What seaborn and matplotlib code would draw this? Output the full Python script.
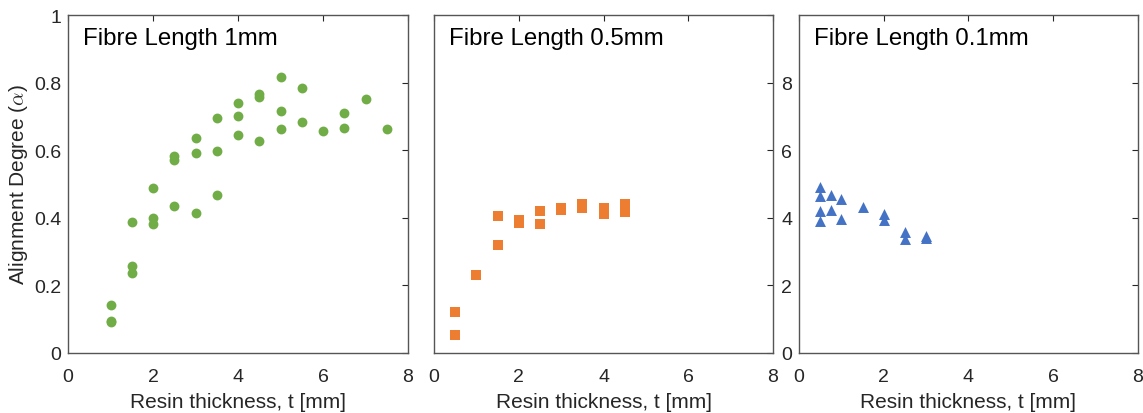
import numpy as np
import pandas as pd
import matplotlib
matplotlib.use("Agg")
import matplotlib.pyplot as plt
import seaborn as sns

# Fibre length 1 mm
t_1mm = [1, 1, 1, 1.5, 1.5, 1.5, 2, 2, 2, 2.5, 2.5, 2.5, 3, 3, 3, 3.5, 3.5, 3.5,
         4, 4, 4, 4.5, 4.5, 4.5, 5, 5, 5, 5.5, 5.5, 6, 6.5, 6.5, 7, 7.5]
a_1mm = [0.142, 0.091, 0.095, 0.387, 0.258, 0.236, 0.489, 0.399, 0.381,
         0.582, 0.571, 0.434, 0.636, 0.593, 0.414, 0.695, 0.598, 0.469,
         0.739, 0.701, 0.644, 0.767, 0.757, 0.628, 0.818, 0.715, 0.663,
         0.785, 0.684, 0.658, 0.711, 0.665, 0.753, 0.664]

# Fibre length 0.5 mm
t_05mm = [0.5, 0.5, 1, 1.5, 1.5, 2, 2, 2.5, 2.5, 3, 3, 3.5, 3.5, 4, 4, 4.5, 4.5]
a_05mm = [0.121, 0.054, 0.230, 0.404, 0.320, 0.394, 0.384, 0.421, 0.383,
          0.430, 0.422, 0.440, 0.428, 0.430, 0.411, 0.442, 0.418]

# Fibre length 0.1 mm
t_01mm = [0.5, 0.5, 0.5, 0.5, 0.75, 0.75, 1, 1, 1.5, 2, 2, 2.5, 2.5, 3, 3]
a_01mm = [4.90, 4.65, 4.21, 3.90, 4.69, 4.22, 4.56, 3.97, 4.32, 4.10, 3.94,
          3.57, 3.37, 3.45, 3.41]

titles = ["Fibre Length 1mm", "Fibre Length 0.5mm", "Fibre Length 0.1mm"]
x_ticks = [0, 2, 4, 6, 8]

sns.set_style("white")
plt.rcParams["font.family"] = ["Liberation Sans", "DejaVu Sans"]
plt.rcParams["mathtext.fontset"] = "cm"

fig = plt.figure(figsize=(11.43, 4.14), dpi=100)
boxes = [(0.0595, 0.145, 0.2975, 0.816),
         (0.3797, 0.145, 0.2966, 0.816),
         (0.699, 0.145, 0.2966, 0.816)]
axes = [fig.add_axes(b) for b in boxes]

series = [
    (t_1mm, a_1mm, "#70AD47", "o", 50),
    (t_05mm, a_05mm, "#ED7D31", "s", 42),
    (t_01mm, a_01mm, "#4472C4", "^", 62),
]

edge = "#262626"
for i, (ax, (t, a, col, mk, sz)) in enumerate(zip(axes, series)):
    df = pd.DataFrame({"t": t, "a": a})
    sns.scatterplot(data=df, x="t", y="a", ax=ax, color=col, marker=mk,
                    s=sz, linewidth=0, legend=False)
    ax.set_xlim(0, 8)
    ax.set_xticks(x_ticks)
    if i < 2:
        ax.set_ylim(0, 1)
        ax.set_yticks([0, 0.2, 0.4, 0.6, 0.8, 1])
    else:
        ax.set_ylim(0, 10)
        ax.set_yticks([0, 2, 4, 6, 8])
    if i == 0:
        ax.set_yticklabels(["0", "0.2", "0.4", "0.6", "0.8", "1"])
        ax.set_ylabel(r"Alignment Degree ($\alpha$)", fontsize=15,
                      color=edge, labelpad=3)
    elif i == 1:
        ax.set_yticklabels([])
        ax.set_ylabel("")
    else:
        ax.set_ylabel("")
    ax.set_xlabel("Resin thickness, t [mm]", fontsize=15, color=edge,
                  labelpad=5)
    ax.tick_params(direction="in", length=4, width=0.8, colors=edge,
                   labelsize=14, top=True, right=True)
    ax.tick_params(axis="x", pad=11)
    ax.tick_params(axis="y", pad=5)
    for sp in ax.spines.values():
        sp.set_visible(True)
        sp.set_color("#555555")
        sp.set_linewidth(1.0)
    ax.text(0.045, 0.965, titles[i], transform=ax.transAxes, ha="left",
            va="top", fontsize=17.3, color="black")

fig.savefig("out.png", dpi=100)
